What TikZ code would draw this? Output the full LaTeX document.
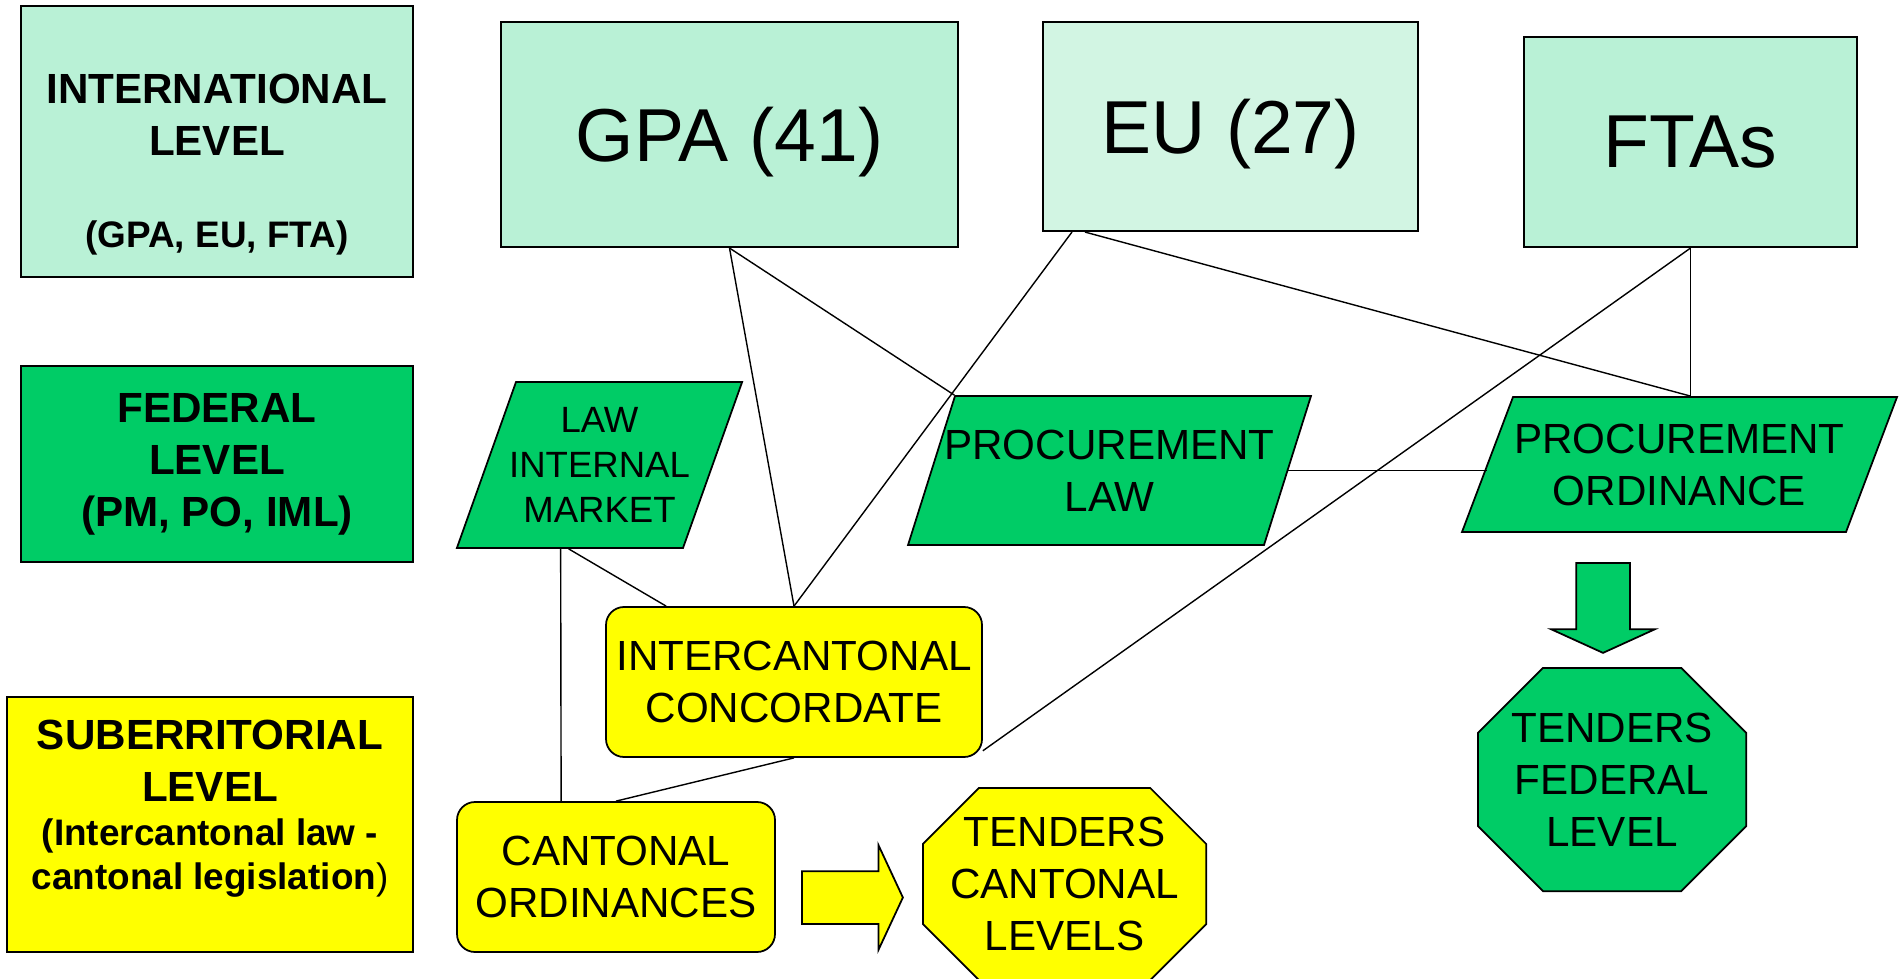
\documentclass[tikz,border=0pt]{standalone}
\usepackage{fontspec}
\setmainfont{Liberation Sans}
\usetikzlibrary{shapes.geometric,shapes.arrows}
\definecolor{mint}{RGB}{185,241,214}
\definecolor{palemint}{RGB}{210,245,227}
\definecolor{fedgreen}{RGB}{0,204,102}
\definecolor{cantyellow}{RGB}{255,255,0}

\begin{document}
\begin{tikzpicture}[
    lvlbox/.style={draw, line width=1.2pt, align=center, inner sep=0pt, font=\bfseries\fontsize{24}{29.6}\selectfont},
    intlbox/.style={draw, line width=1.2pt, fill=mint, inner sep=0pt, text depth=0pt, font=\fontsize{42.7}{51}\selectfont},
    txt/.style={align=center, font=\fontsize{24}{29.6}\selectfont},
    para/.style={draw, trapezium, fill=fedgreen, line width=1pt},
    cantbox/.style={txt, draw, rounded corners=0.36cm, fill=cantyellow, line width=1pt},
    % octagon drawn inside the node box, corners cut by #2
    tender/.style 2 args={txt, path picture={
        \path (path picture bounding box.north west) ++(0.5pt,-0.5pt) coordinate (nw)
              (path picture bounding box.south east) ++(-0.5pt,0.5pt) coordinate (se);
        \draw[fill=#1, line width=1pt]
            ([xshift=#2]nw) -- ([xshift=-#2]nw -| se) -- ([yshift=-#2]nw -| se) -- ([yshift=#2]se)
            -- ([xshift=-#2]se) -- ([xshift=#2]se -| nw) -- ([yshift=#2]se -| nw) -- ([yshift=-#2]nw) -- cycle;}},
    blockarrow/.style={draw, single arrow, inner xsep=0pt, line width=1pt},
    link/.style={line width=0.8pt}
]
\useasboundingbox (0,0) rectangle (38,-19.58);

% levels
\node[lvlbox, fill=mint, minimum width=7.84cm, minimum height=5.42cm] (intl) at (4.34,-2.83)
    {\rule{0pt}{1.52cm}INTERNATIONAL\\LEVEL\\[0.8cm]{\fontsize{21}{25}\selectfont (GPA, EU, FTA)}};
\node[lvlbox, fill=fedgreen, minimum width=7.84cm, minimum height=3.92cm] (fed) at (4.34,-9.28)
    {FEDERAL\\LEVEL\\(PM, PO, IML)};
\node[lvlbox, fill=cantyellow, minimum width=8.12cm, minimum height=5.10cm] (sub) at (4.20,-16.49)
    {SUBERRITORIAL\\LEVEL\\[-4.6pt]{\fontsize{21}{25}\selectfont (Intercantonal law -}\\[-4.6pt]{\fontsize{21}{25}\selectfont cantonal legislation{\mdseries )}}\rule[-0.8cm]{0pt}{0.8cm}};

% international
\node[intlbox, minimum width=9.14cm, minimum height=4.50cm] (gpa) at (14.59,-2.69) {GPA (41)};
\node[intlbox, fill=palemint, minimum width=7.50cm, minimum height=4.18cm] (eu) at (24.61,-2.53) {EU (27)};
\node[intlbox, minimum width=6.66cm, minimum height=4.20cm] (ftas) at (33.81,-2.84) {FTAs};

% federal
\node[para, trapezium left angle=70.4, trapezium right angle=109.6, inner xsep=1.67cm, inner ysep=1.66cm,
    label={[txt, font=\fontsize{20.8}{25.6}\selectfont]center:{LAW\\INTERNAL\\MARKET}}] (lim) at (11.99,-9.30) {};
\node[para, trapezium left angle=72.5, trapezium right angle=107.5, inner xsep=3.09cm, inner ysep=1.49cm,
    label={[txt]center:{PROCUREMENT\\LAW}}] (plaw) at (22.19,-9.41) {};
\node[para, trapezium left angle=69.3, trapezium right angle=110.7, inner xsep=3.33cm, inner ysep=1.35cm,
    label={[txt]center:{PROCUREMENT\\ORDINANCE}}] (pord) at (33.59,-9.29) {};

% cantonal
\node[cantbox, minimum width=7.52cm, minimum height=3.00cm] (ic) at (15.88,-13.64) {INTERCANTONAL\\CONCORDATE};
\node[cantbox, minimum width=6.36cm, minimum height=3.00cm] (co) at (12.32,-17.54) {CANTONAL\\ORDINANCES};

% tenders
\node[tender={cantyellow}{1.12cm}, minimum width=5.70cm, minimum height=3.88cm] (tcan) at (21.29,-17.68) {TENDERS\\CANTONAL\\LEVELS};
\node[tender={fedgreen}{1.30cm}, minimum width=5.40cm, minimum height=4.50cm] (tfed) at (32.24,-15.59) {TENDERS\\FEDERAL\\LEVEL};

\node[blockarrow, fill=cantyellow, inner ysep=0.51cm, single arrow head extend=0.52cm, single arrow tip angle=130,
    minimum height=2.02cm, anchor=tail] (yarr) at (16.02,-17.95) {};
\node[blockarrow, fill=fedgreen, rotate=-90, inner ysep=0.52cm, single arrow head extend=0.50cm, single arrow tip angle=131,
    minimum height=1.80cm, anchor=tail] (garr) at (32.06,-11.24) {};

% links
\draw[link] (gpa.south) -- (ic.north);
\draw[link] (gpa.south) -- (plaw.top left corner);
\draw[link] ([xshift=0.60cm]eu.south west) -- (ic.north);
\draw[link] ([xshift=0.86cm]eu.south west) -- (ftas.south |- pord.north);
\draw[link] (ftas.south) -- (ftas.south |- pord.north);
\draw[link] (ftas.south) -- (ic.-20);
\draw[link] (plaw.east) -- (plaw.east -| pord.west);
\draw[link] ([xshift=2.10cm]lim.bottom left corner) -- ([xshift=2.10cm]co.north west);
\draw[link] ([xshift=2.26cm]lim.bottom left corner) -- ([xshift=1.22cm]ic.north west);
\draw[link] (ic.south) -- (co.north);
\end{tikzpicture}
\end{document}
